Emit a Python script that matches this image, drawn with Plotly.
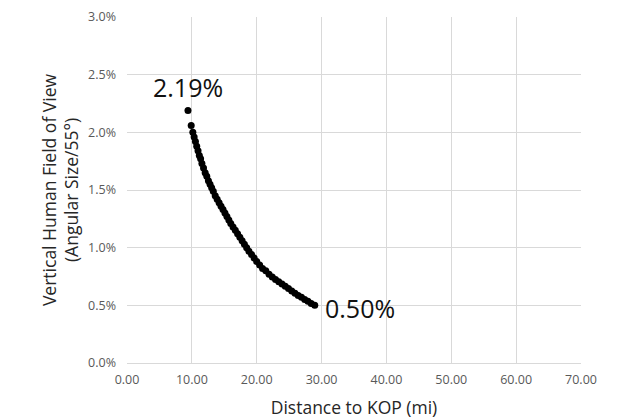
import plotly.graph_objects as go

# distance to KOP (mi) and vertical field-of-view share
distance_mi = [9.40, 9.90, 10.15, 10.35, 10.55, 10.75, 10.95, 11.15, 11.35, 11.55,
               11.80, 12.05, 12.30, 12.55, 12.80, 13.05, 13.30, 13.60, 13.90, 14.20,
               14.50, 14.80, 15.10, 15.40, 15.70, 16.00, 16.35, 16.70, 17.05, 17.40,
               17.75, 18.10, 18.45, 18.80, 19.20, 19.60, 20.00, 20.45, 20.90, 21.40,
               21.90, 22.40, 22.90, 23.40, 23.90, 24.40, 24.90, 25.40, 25.90, 26.40,
               26.90, 27.40, 27.90, 28.40, 28.95]
fov_pct = [2.19, 2.06, 2.00, 1.96, 1.92, 1.88, 1.84, 1.80, 1.77, 1.73,
           1.69, 1.65, 1.62, 1.58, 1.55, 1.52, 1.49, 1.45, 1.42, 1.39,
           1.36, 1.33, 1.30, 1.27, 1.24, 1.21, 1.18, 1.15, 1.12, 1.09,
           1.06, 1.03, 1.00, 0.97, 0.94, 0.91, 0.88, 0.85, 0.82, 0.80,
           0.77, 0.745, 0.725, 0.705, 0.685, 0.665, 0.645, 0.625, 0.605, 0.585,
           0.57, 0.55, 0.535, 0.515, 0.50]

x_ticks = [0, 10, 20, 30, 40, 50, 60, 70]
y_ticks = [0.0, 0.5, 1.0, 1.5, 2.0, 2.5, 3.0]

fov = [v / 100 for v in fov_pct]

fig = go.Figure()
fig.add_trace(go.Scatter(
    x=distance_mi, y=fov, mode='markers',
    marker=dict(color='black', size=7),
    showlegend=False))

fig.add_annotation(x=distance_mi[0], y=fov[0], text='%.2f%%' % fov_pct[0],
                   showarrow=False, yshift=23, xshift=0,
                   font=dict(size=25, color='#111111'))
fig.add_annotation(x=distance_mi[-1], y=fov[-1], text='%.2f%%' % fov_pct[-1],
                   showarrow=False, xanchor='left', xshift=8, yshift=-3,
                   font=dict(size=25, color='#111111'))

fnt = 'Open Sans, Noto Sans, sans-serif'
tick_font = dict(family=fnt, size=12.5, color='#595959')
title_font = dict(family=fnt, size=17.5, color='#262626')

fig.update_xaxes(range=[0, 70], tickvals=x_ticks, tickformat='.2f',
                 showgrid=True, gridcolor='#d9d9d9', zeroline=False,
                 showline=True, linecolor='#d9d9d9', automargin=False,
                 tickfont=tick_font, ticklabelstandoff=5,
                 title=dict(text='Distance to KOP (mi)', font=title_font, standoff=14))
fig.update_yaxes(range=[0, 0.03], tickvals=[v / 100 for v in y_ticks], tickformat='.1%',
                 showgrid=True, gridcolor='#d9d9d9', zeroline=False, automargin=False,
                 tickfont=tick_font, ticklabelstandoff=10,
                 title=dict(text='Vertical Human Field of View<br>(Angular Size/55°)',
                            font=title_font, standoff=4))

fig.update_layout(width=625, height=419,
                  margin=dict(l=127, r=44, t=17, b=56),
                  plot_bgcolor='white', paper_bgcolor='white',
                  font=dict(family=fnt))

fig.write_html('out.html', config={'displayModeBar': False},
               post_script="document.body.style.margin='0';")
